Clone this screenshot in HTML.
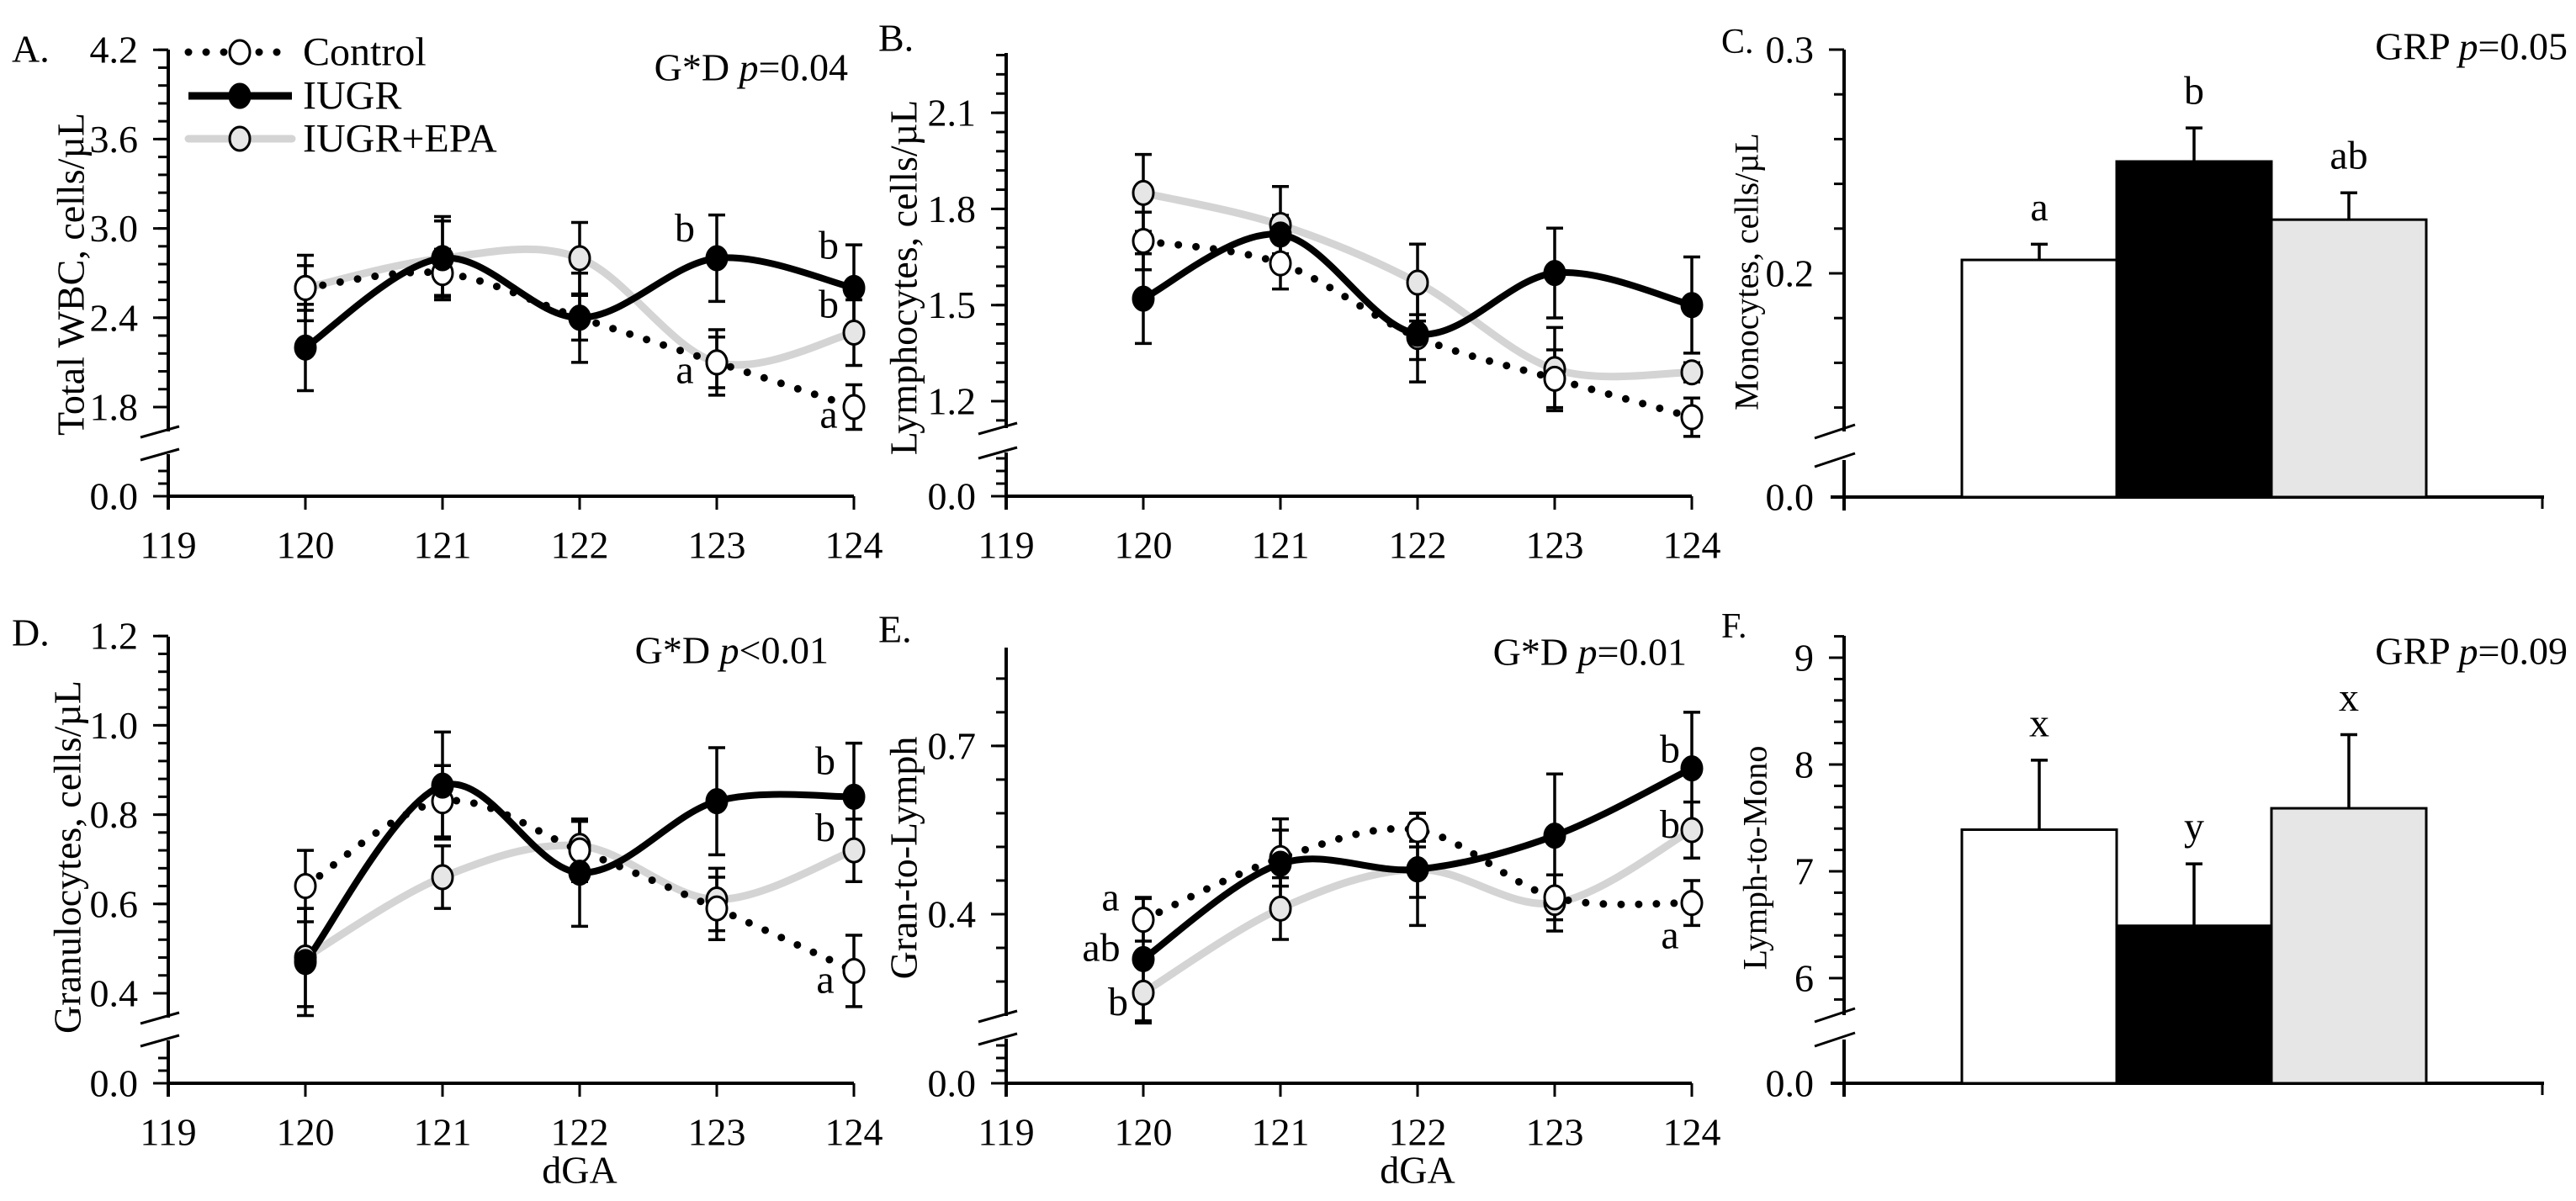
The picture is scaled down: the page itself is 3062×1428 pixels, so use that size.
<!DOCTYPE html>
<html><head><meta charset="utf-8"><style>
html,body{margin:0;padding:0;background:#fff;}
svg{display:block;font-family:"Liberation Serif",serif;}
svg text{font-family:"Liberation Serif",serif;}
</style></head><body>
<svg id="fig" width="3062" height="1428" viewBox="0 0 3062 1428" xmlns="http://www.w3.org/2000/svg"></svg>
<script>
// ---------- data ----------
const days = [120,121,122,123,124];
const xTickLabels = ['119','120','121','122','123','124'];
// Panel A: Total WBC
const aControl = [2.60,2.70,2.40,2.10,1.80];
const aControlErr = [0.15,0.16,0.15,0.17,0.15];
const aIugr = [2.20,2.80,2.40,2.80,2.60];
const aIugrErr = [0.29,0.28,0.30,0.29,0.29];
const aEpa = [2.60,2.80,2.80,2.10,2.30];
const aEpaErr = [0.22,0.25,0.24,0.22,0.22];
const aTicks = [1.8,2.4,3.0,3.6,4.2];
// Panel B: Lymphocytes
const bControl = [1.70,1.63,1.40,1.27,1.15];
const bControlErr = [0.09,0.08,0.07,0.09,0.06];
const bIugr = [1.52,1.72,1.41,1.60,1.50];
const bIugrErr = [0.14,0.06,0.15,0.14,0.15];
const bEpa = [1.85,1.75,1.57,1.30,1.29];
const bEpaErr = [0.12,0.12,0.12,0.13,0.03];
const bTicks = [1.2,1.5,1.8,2.1];
// Panel D: Granulocytes
const dControl = [0.64,0.83,0.72,0.59,0.45];
const dControlErr = [0.08,0.08,0.07,0.07,0.08];
const dIugr = [0.47,0.865,0.67,0.83,0.84];
const dIugrErr = [0.12,0.12,0.12,0.12,0.12];
const dEpa = [0.48,0.66,0.73,0.61,0.72];
const dEpaErr = [0.11,0.07,0.055,0.07,0.07];
const dTicks = [0.4,0.6,0.8,1.0,1.2];
// Panel E: Gran-to-Lymph
const eControl = [0.39,0.50,0.55,0.43,0.42];
const eControlErr = [0.038,0.05,0.03,0.04,0.04];
const eIugr = [0.32,0.49,0.48,0.54,0.66];
const eIugrErr = [0.11,0.08,0.05,0.11,0.10];
const eEpa = [0.26,0.41,0.48,0.42,0.55];
const eEpaErr = [0.054,0.055,0.10,0.05,0.05];
const eTicks = [0.4,0.7];
// Panel C: Monocytes (bars)
const groups = ['Control','IUGR','IUGR+EPA'];
const cValues = [0.206,0.250,0.224];
const cErr = [0.007,0.015,0.012];
const cLetters = ['a','b','ab'];
const cTicks = [0.2,0.3];
// Panel F: Lymph-to-Mono (bars)
const fValues = [7.39,6.49,7.59];
const fErr = [0.65,0.58,0.69];
const fLetters = ['x','y','x'];
const fTicks = [6,7,8,9];

// ---------- helpers ----------
const NS='http://www.w3.org/2000/svg';
const svg=document.getElementById('fig');
function mk(tag,attrs,parent){const e=document.createElementNS(NS,tag);for(const k in attrs)e.setAttribute(k,attrs[k]);(parent||svg).appendChild(e);return e;}
function txt(s,x,y,size,anchor,parent,extra){const t=mk('text',Object.assign({x:x,y:y,'font-size':size,'font-family':'Liberation Serif, serif','text-anchor':anchor||'middle','dominant-baseline':'central',fill:'#000'},extra||{}),parent);t.textContent=s;return t;}
function smoothPath(pts){let d='M'+pts[0][0]+','+pts[0][1];for(let i=0;i<pts.length-1;i++){const p0=pts[i-1]||pts[i],p1=pts[i],p2=pts[i+1],p3=pts[i+2]||p2;const c1=[p1[0]+(p2[0]-p0[0])/6,p1[1]+(p2[1]-p0[1])/6];const c2=[p2[0]-(p3[0]-p1[0])/6,p2[1]-(p3[1]-p1[1])/6];d+=' C'+c1[0]+','+c1[1]+' '+c2[0]+','+c2[1]+' '+p2[0]+','+p2[1];}return d;}

function drawAxes(g,c){
  const sx=d=>c.ox+(d-119)*c.dx;
  const sy=v=>c.yRef-(v-c.vRef)*c.k;
  const st={stroke:'#000','stroke-width':4,fill:'none'};
  const ya=mk('line',Object.assign({x1:c.ox,y1:c.top,x2:c.ox,y2:c.brk[0]},st),g);
  
  mk('line',Object.assign({x1:c.ox,y1:c.brk[1],x2:c.ox,y2:c.y0+16},st),g);
  mk('line',{x1:c.ox-33,y1:c.brk[0]+7,x2:c.ox+13,y2:c.brk[0]-6,stroke:'#000','stroke-width':3},g);
  mk('line',{x1:c.ox-33,y1:c.brk[1]+7,x2:c.ox+13,y2:c.brk[1]-6,stroke:'#000','stroke-width':3},g);
  for(let v=c.vRef;sy(v)>=c.top-1;v+=c.minor) mk('line',{x1:c.ox-12,y1:sy(v),x2:c.ox,y2:sy(v),stroke:'#000','stroke-width':3},g);
  for(let v=c.vRef-c.minor;sy(v)<=c.brk[0]-8;v-=c.minor) mk('line',{x1:c.ox-12,y1:sy(v),x2:c.ox,y2:sy(v),stroke:'#000','stroke-width':3},g);
  for(let y=c.y0-15;y>c.brk[1]+6;y-=15) mk('line',{x1:c.ox-12,y1:y,x2:c.ox,y2:y,stroke:'#000','stroke-width':3},g);
  c.ticks.forEach(v=>{mk('line',{x1:c.ox-18,y1:sy(v),x2:c.ox,y2:sy(v),stroke:'#000','stroke-width':3},g);
    const t=txt(v.toFixed(1),c.ox-36,sy(v),46,'end',g);});
  mk('line',{x1:c.ox-18,y1:c.y0,x2:c.ox,y2:c.y0,stroke:'#000','stroke-width':3},g);
  const z=txt('0.0',c.ox-36,c.y0,46,'end',g);
  const xa=mk('line',Object.assign({x1:c.ox,y1:c.y0,x2:sx(124),y2:c.y0},st),g);
  
  xTickLabels.forEach((s,i)=>{const d=119+i;mk('line',{x1:sx(d),y1:c.y0,x2:sx(d),y2:c.y0+16,stroke:'#000','stroke-width':3},g);
    const t=txt(s,sx(d),c.y0+58,46,'middle',g);});
  return {sx,sy};
}

function drawLinePanel(c){
  const g=mk('g',{});
  
  
  const {sx,sy}=drawAxes(g,c);
  const series=[
    {vals:c.epa,err:c.epaErr,line:{stroke:'#d4d4d4','stroke-width':9,fill:'none','stroke-linecap':'round'},fill:'#e6e6e6',nm:'iugr-epa'},
    {vals:c.control,err:c.controlErr,line:{stroke:'#000','stroke-width':9,fill:'none','stroke-linecap':'round','stroke-dasharray':'0 21'},fill:'#fff',nm:'control'},
    {vals:c.iugr,err:c.iugrErr,line:{stroke:'#000','stroke-width':8,fill:'none'},fill:'#000',nm:'iugr'}
  ];
  series.forEach(s=>{const pts=days.map((d,i)=>[sx(d),sy(s.vals[i])]);
    const p=mk('path',Object.assign({d:smoothPath(pts)},s.line),g);
    });
  series.forEach(s=>{days.forEach((d,i)=>{const x=sx(d),y1=sy(s.vals[i]+s.err[i]),y2=sy(s.vals[i]-s.err[i]);
    const e=mk('path',{d:`M${x},${y1}V${y2}M${x-10},${y1}H${x+10}M${x-10},${y2}H${x+10}`,stroke:'#000','stroke-width':3.5,fill:'none'},g);
    });});
  series.forEach(s=>{days.forEach((d,i)=>{
    const m=mk('ellipse',{cx:sx(d),cy:sy(s.vals[i]),rx:12,ry:14,fill:s.fill,stroke:'#000','stroke-width':3},g);
    });});
  (c.letters||[]).forEach(L=>{const t=txt(L[0],sx(L[1])+L[3],sy(L[2]),48,'middle',g);});
  const pl=txt('',c.pX,c.pY,46,'end',g);
  pl.innerHTML=c.pText;
  const pn=txt(c.label,c.lX,c.lY,46,'start',g);
  const yt=txt(c.yTitle,0,0,46,'middle',g,{transform:`translate(${c.tX},${c.tY}) rotate(-90)`});
  
  if(c.xTitle){const xt=txt('dGA',sx(122),c.y0+103,46,'middle',g);}
}

function drawBarPanel(c){
  const g=mk('g',{});
  
  
  const sy=v=>c.yRef-(v-c.vRef)*c.k;
  const st={stroke:'#000','stroke-width':4};
  mk('line',Object.assign({x1:c.ox,y1:c.top,x2:c.ox,y2:c.brk[0]},st),g);
  mk('line',Object.assign({x1:c.ox,y1:c.brk[1],x2:c.ox,y2:c.y0+16},st),g);
  mk('line',{x1:c.ox-35,y1:c.brk[0]+8,x2:c.ox+13,y2:c.brk[0]-8,stroke:'#000','stroke-width':3},g);
  mk('line',{x1:c.ox-35,y1:c.brk[1]+8,x2:c.ox+13,y2:c.brk[1]-8,stroke:'#000','stroke-width':3},g);
  for(let v=c.ticks[0];sy(v)>=c.top-1;v+=c.minor) mk('line',{x1:c.ox-12,y1:sy(v),x2:c.ox,y2:sy(v),stroke:'#000','stroke-width':3},g);
  for(let v=c.ticks[0]-c.minor;sy(v)<=c.brk[0]-8;v-=c.minor) mk('line',{x1:c.ox-12,y1:sy(v),x2:c.ox,y2:sy(v),stroke:'#000','stroke-width':3},g);
  c.ticks.forEach(v=>{mk('line',{x1:c.ox-18,y1:sy(v),x2:c.ox,y2:sy(v),stroke:'#000','stroke-width':3},g);
    const t=txt(c.fmt(v),c.ox-36,sy(v),46,'end',g);});
  const z=txt('0.0',c.ox-36,c.y0,46,'end',g);
  const xa=mk('line',Object.assign({x1:c.ox-16,y1:c.y0,x2:3024,y2:c.y0},st),g);
  
  mk('line',{x1:3022,y1:c.y0,x2:3022,y2:c.y0+14,stroke:'#000','stroke-width':3},g);
  const fills=['#fff','#000','#e6e6e6'];
  groups.forEach((gname,i)=>{const x=2332+i*184,w=184,y=sy(c.values[i]);
    const r=mk('rect',{x:x,y:y,width:w,height:c.y0-y,fill:fills[i],stroke:'#000','stroke-width':3},g);
    
    const ey=sy(c.values[i]+c.err[i]),cx=x+w/2;
    const e=mk('path',{d:`M${cx},${y}V${ey}M${cx-10},${ey}H${cx+10}`,stroke:'#000','stroke-width':3.5,fill:'none'},g);
    
    const t=txt(c.letters[i],cx,ey-44,48,'middle',g);});
  const pl=txt('',3052,c.pY,46,'end',g);
  pl.innerHTML=c.pText;
  const pn=txt(c.label,2046,c.lY,42,'start',g);
  const yt=txt(c.yTitle,0,0,40,'middle',g,{transform:`translate(${c.tX},${c.tY}) rotate(-90)`});
  
}

// ---------- panels ----------
drawLinePanel({name:'panel-a-total-wbc',ox:200,dx:163,y0:590,vRef:1.8,yRef:484,k:177,top:59,brk:[513,540],ticks:aTicks,minor:0.12,
  control:aControl,controlErr:aControlErr,iugr:aIugr,iugrErr:aIugrErr,epa:aEpa,epaErr:aEpaErr,
  letters:[['b',123,3.0,-38],['a',123,2.05,-38],['b',124,2.885,-30],['b',124,2.49,-30],['a',124,1.75,-30]],
  pText:'G*D <tspan font-style="italic">p</tspan>=0.04',pX:1008,pY:80,label:'A.',lX:14,lY:58,yTitle:'Total WBC, cells/µL',tX:84,tY:326});
drawLinePanel({name:'panel-b-lymphocytes',ox:1196,dx:163,y0:590,vRef:1.2,yRef:477,k:381,top:63,brk:[509,538],ticks:bTicks,minor:0.06,
  control:bControl,controlErr:bControlErr,iugr:bIugr,iugrErr:bIugrErr,epa:bEpa,epaErr:bEpaErr,letters:[],
  pText:'',pX:2000,pY:80,label:'B.',lX:1044,lY:45,yTitle:'Lymphocytes,  cells/µL',tX:1074,tY:330});
drawLinePanel({name:'panel-d-granulocytes',ox:200,dx:163,y0:1288,vRef:0.4,yRef:1181,k:531,top:757,brk:[1210,1237],ticks:dTicks,minor:0.04,
  control:dControl,controlErr:dControlErr,iugr:dIugr,iugrErr:dIugrErr,epa:dEpa,epaErr:dEpaErr,
  letters:[['b',124,0.92,-34],['b',124,0.77,-34],['a',124,0.43,-34]],xTitle:true,
  pText:'G*D <tspan font-style="italic">p</tspan>&lt;0.01',pX:985,pY:773,label:'D.',lX:14,lY:752,yTitle:'Granulocytes, cells/µL',tX:80,tY:1019});
drawLinePanel({name:'panel-e-gran-to-lymph',ox:1196,dx:163,y0:1288,vRef:0.4,yRef:1087,k:667,top:770,brk:[1208,1235],ticks:eTicks,minor:0.06,
  control:eControl,controlErr:eControlErr,iugr:eIugr,iugrErr:eIugrErr,epa:eEpa,epaErr:eEpaErr,
  letters:[['a',120,0.43,-39],['ab',120,0.34,-50],['b',120,0.243,-30],['b',124,0.694,-26],['b',124,0.56,-26],['a',124,0.3625,-26]],xTitle:true,
  pText:'G*D <tspan font-style="italic">p</tspan>=0.01',pX:2005,pY:775,label:'E.',lX:1044,lY:748,yTitle:'Gran-to-Lymph',tX:1074,tY:1020});
drawBarPanel({name:'panel-c-monocytes',ox:2192,y0:591,vRef:0.2,yRef:325,k:2660,top:59,brk:[513,547],ticks:cTicks,minor:0.02,fmt:v=>v.toFixed(1),
  values:cValues,err:cErr,letters:cLetters,pText:'GRP <tspan font-style="italic">p</tspan>=0.05',pY:55,label:'C.',lY:50,yTitle:'Monocytes, cells/µL',tX:2076,tY:323});
drawBarPanel({name:'panel-f-lymph-to-mono',ox:2192,y0:1288,vRef:7,yRef:1036,k:127,top:756,brk:[1207,1236],ticks:fTicks,minor:0.2,fmt:v=>String(v),
  values:fValues,err:fErr,letters:fLetters,pText:'GRP <tspan font-style="italic">p</tspan>=0.09',pY:774,label:'F.',lY:745,yTitle:'Lymph-to-Mono',tX:2086,tY:1020});

// ---------- legend (panel A) ----------
const lg=mk('g',{});


const legendNames=['Control','IUGR','IUGR+EPA'];
const legendY=[62,114,165];
const lStyles=[{stroke:'#000','stroke-width':9,'stroke-linecap':'round','stroke-dasharray':'0 21'},{stroke:'#000','stroke-width':9},{stroke:'#d4d4d4','stroke-width':9,'stroke-linecap':'round'}];
const lFills=['#fff','#000','#e6e6e6'];
legendNames.forEach((n,i)=>{const e=mk('g',{},lg);
  
  
  mk('line',Object.assign({x1:224,y1:legendY[i],x2:347,y2:legendY[i]},lStyles[i]),e);
  mk('ellipse',{cx:285,cy:legendY[i],rx:12,ry:14,fill:lFills[i],stroke:'#000','stroke-width':3},e);
  txt(n,360,legendY[i],48,'start',e);});
</script>
</body></html>
